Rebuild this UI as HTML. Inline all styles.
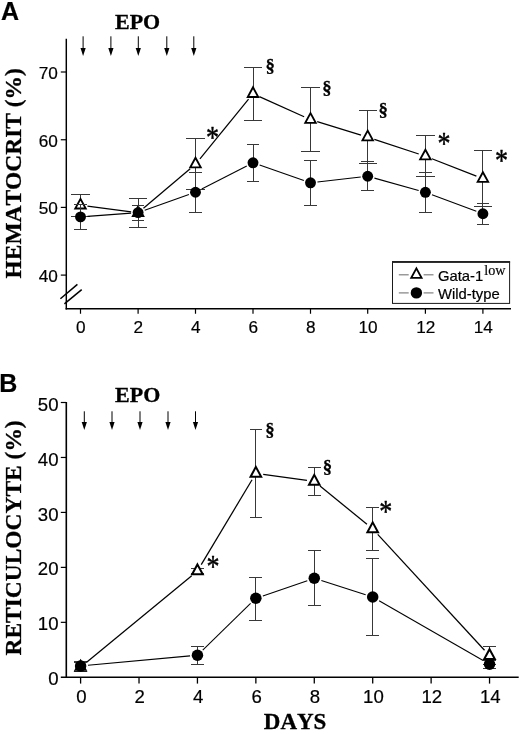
<!DOCTYPE html>
<html><head><meta charset="utf-8"><title>Figure</title>
<style>html,body{margin:0;padding:0;background:#fff}svg{display:block}</style>
</head><body>
<svg width="520" height="734" viewBox="0 0 520 734">
<rect width="520" height="734" fill="#fff"/>
<text x="0.90" y="19.60" font-family='"Liberation Sans", sans-serif' font-size="25" font-weight="bold" text-anchor="start" stroke="#000" stroke-width="0.2" >A</text>
<text x="115.00" y="28.70" font-family='"Liberation Serif", serif' font-size="22.0" font-weight="bold" text-anchor="start" stroke="#000" stroke-width="0.3" >EPO</text>
<line x1="83.10" y1="36.30" x2="83.10" y2="50.90" stroke="#000" stroke-width="1.0" />
<polygon points="80.50,47.90 85.70,47.90 83.10,55.90" fill="#000"/>
<line x1="110.90" y1="36.30" x2="110.90" y2="50.90" stroke="#000" stroke-width="1.0" />
<polygon points="108.30,47.90 113.50,47.90 110.90,55.90" fill="#000"/>
<line x1="138.30" y1="36.30" x2="138.30" y2="50.90" stroke="#000" stroke-width="1.0" />
<polygon points="135.70,47.90 140.90,47.90 138.30,55.90" fill="#000"/>
<line x1="166.80" y1="36.30" x2="166.80" y2="50.90" stroke="#000" stroke-width="1.0" />
<polygon points="164.20,47.90 169.40,47.90 166.80,55.90" fill="#000"/>
<line x1="193.80" y1="36.30" x2="193.80" y2="50.90" stroke="#000" stroke-width="1.0" />
<polygon points="191.20,47.90 196.40,47.90 193.80,55.90" fill="#000"/>
<line x1="66.30" y1="38.75" x2="66.30" y2="309.48" stroke="#000" stroke-width="1.45" />
<line x1="65.58" y1="308.75" x2="511.00" y2="308.75" stroke="#000" stroke-width="1.45" />
<line x1="60.80" y1="72.00" x2="66.30" y2="72.00" stroke="#000" stroke-width="1.2" />
<text x="57.80" y="78.80" font-family='"Liberation Sans", sans-serif' font-size="17.2" font-weight="normal" text-anchor="end" stroke="#000" stroke-width="0.2" >70</text>
<line x1="60.80" y1="139.75" x2="66.30" y2="139.75" stroke="#000" stroke-width="1.2" />
<text x="57.80" y="146.55" font-family='"Liberation Sans", sans-serif' font-size="17.2" font-weight="normal" text-anchor="end" stroke="#000" stroke-width="0.2" >60</text>
<line x1="60.80" y1="207.40" x2="66.30" y2="207.40" stroke="#000" stroke-width="1.2" />
<text x="57.80" y="214.20" font-family='"Liberation Sans", sans-serif' font-size="17.2" font-weight="normal" text-anchor="end" stroke="#000" stroke-width="0.2" >50</text>
<line x1="60.80" y1="275.10" x2="66.30" y2="275.10" stroke="#000" stroke-width="1.2" />
<text x="57.80" y="281.90" font-family='"Liberation Sans", sans-serif' font-size="17.2" font-weight="normal" text-anchor="end" stroke="#000" stroke-width="0.2" >40</text>
<line x1="80.50" y1="308.75" x2="80.50" y2="313.75" stroke="#000" stroke-width="1.2" />
<text x="80.80" y="333.40" font-family='"Liberation Sans", sans-serif' font-size="17.2" font-weight="normal" text-anchor="middle" stroke="#000" stroke-width="0.2" >0</text>
<line x1="138.10" y1="308.75" x2="138.10" y2="313.75" stroke="#000" stroke-width="1.2" />
<text x="138.40" y="333.40" font-family='"Liberation Sans", sans-serif' font-size="17.2" font-weight="normal" text-anchor="middle" stroke="#000" stroke-width="0.2" >2</text>
<line x1="195.50" y1="308.75" x2="195.50" y2="313.75" stroke="#000" stroke-width="1.2" />
<text x="195.80" y="333.40" font-family='"Liberation Sans", sans-serif' font-size="17.2" font-weight="normal" text-anchor="middle" stroke="#000" stroke-width="0.2" >4</text>
<line x1="253.00" y1="308.75" x2="253.00" y2="313.75" stroke="#000" stroke-width="1.2" />
<text x="253.30" y="333.40" font-family='"Liberation Sans", sans-serif' font-size="17.2" font-weight="normal" text-anchor="middle" stroke="#000" stroke-width="0.2" >6</text>
<line x1="310.50" y1="308.75" x2="310.50" y2="313.75" stroke="#000" stroke-width="1.2" />
<text x="310.80" y="333.40" font-family='"Liberation Sans", sans-serif' font-size="17.2" font-weight="normal" text-anchor="middle" stroke="#000" stroke-width="0.2" >8</text>
<line x1="367.70" y1="308.75" x2="367.70" y2="313.75" stroke="#000" stroke-width="1.2" />
<text x="368.00" y="333.40" font-family='"Liberation Sans", sans-serif' font-size="17.2" font-weight="normal" text-anchor="middle" stroke="#000" stroke-width="0.2" >10</text>
<line x1="425.40" y1="308.75" x2="425.40" y2="313.75" stroke="#000" stroke-width="1.2" />
<text x="425.70" y="333.40" font-family='"Liberation Sans", sans-serif' font-size="17.2" font-weight="normal" text-anchor="middle" stroke="#000" stroke-width="0.2" >12</text>
<line x1="482.90" y1="308.75" x2="482.90" y2="313.75" stroke="#000" stroke-width="1.2" />
<text x="483.20" y="333.40" font-family='"Liberation Sans", sans-serif' font-size="17.2" font-weight="normal" text-anchor="middle" stroke="#000" stroke-width="0.2" >14</text>
<line x1="60.40" y1="298.80" x2="77.40" y2="284.40" stroke="#000" stroke-width="1.5" />
<line x1="64.40" y1="303.80" x2="81.70" y2="289.70" stroke="#000" stroke-width="1.5" />
<text transform="translate(21.3,173.3) rotate(-90) scale(1,0.94)" font-family='"Liberation Serif", serif' font-size="23.45" font-weight="bold" text-anchor="middle" stroke="#000" stroke-width="0.3" style="font-kerning:none">HEMATOCRIT (%)</text>
<line x1="80.50" y1="194.00" x2="80.50" y2="216.85" stroke="#383838" stroke-width="1.0" shape-rendering="crispEdges"/>
<line x1="71.40" y1="194.00" x2="89.60" y2="194.00" stroke="#383838" stroke-width="1.0" shape-rendering="crispEdges"/>
<line x1="71.40" y1="216.85" x2="89.60" y2="216.85" stroke="#383838" stroke-width="1.0" shape-rendering="crispEdges"/>
<line x1="138.10" y1="198.10" x2="138.10" y2="227.70" stroke="#383838" stroke-width="1.0" shape-rendering="crispEdges"/>
<line x1="129.00" y1="198.10" x2="147.20" y2="198.10" stroke="#383838" stroke-width="1.0" shape-rendering="crispEdges"/>
<line x1="129.00" y1="227.70" x2="147.20" y2="227.70" stroke="#383838" stroke-width="1.0" shape-rendering="crispEdges"/>
<line x1="195.50" y1="138.60" x2="195.50" y2="189.80" stroke="#383838" stroke-width="1.0" shape-rendering="crispEdges"/>
<line x1="186.40" y1="138.60" x2="204.60" y2="138.60" stroke="#383838" stroke-width="1.0" shape-rendering="crispEdges"/>
<line x1="186.40" y1="189.80" x2="204.60" y2="189.80" stroke="#383838" stroke-width="1.0" shape-rendering="crispEdges"/>
<line x1="253.00" y1="67.50" x2="253.00" y2="120.00" stroke="#383838" stroke-width="1.0" shape-rendering="crispEdges"/>
<line x1="243.90" y1="67.50" x2="262.10" y2="67.50" stroke="#383838" stroke-width="1.0" shape-rendering="crispEdges"/>
<line x1="243.90" y1="120.00" x2="262.10" y2="120.00" stroke="#383838" stroke-width="1.0" shape-rendering="crispEdges"/>
<line x1="310.50" y1="87.50" x2="310.50" y2="151.25" stroke="#383838" stroke-width="1.0" shape-rendering="crispEdges"/>
<line x1="301.40" y1="87.50" x2="319.60" y2="87.50" stroke="#383838" stroke-width="1.0" shape-rendering="crispEdges"/>
<line x1="301.40" y1="151.25" x2="319.60" y2="151.25" stroke="#383838" stroke-width="1.0" shape-rendering="crispEdges"/>
<line x1="367.70" y1="110.50" x2="367.70" y2="163.75" stroke="#383838" stroke-width="1.0" shape-rendering="crispEdges"/>
<line x1="358.60" y1="110.50" x2="376.80" y2="110.50" stroke="#383838" stroke-width="1.0" shape-rendering="crispEdges"/>
<line x1="358.60" y1="163.75" x2="376.80" y2="163.75" stroke="#383838" stroke-width="1.0" shape-rendering="crispEdges"/>
<line x1="425.40" y1="135.75" x2="425.40" y2="176.50" stroke="#383838" stroke-width="1.0" shape-rendering="crispEdges"/>
<line x1="416.30" y1="135.75" x2="434.50" y2="135.75" stroke="#383838" stroke-width="1.0" shape-rendering="crispEdges"/>
<line x1="416.30" y1="176.50" x2="434.50" y2="176.50" stroke="#383838" stroke-width="1.0" shape-rendering="crispEdges"/>
<line x1="482.90" y1="150.50" x2="482.90" y2="206.75" stroke="#383838" stroke-width="1.0" shape-rendering="crispEdges"/>
<line x1="473.80" y1="150.50" x2="492.00" y2="150.50" stroke="#383838" stroke-width="1.0" shape-rendering="crispEdges"/>
<line x1="473.80" y1="206.75" x2="492.00" y2="206.75" stroke="#383838" stroke-width="1.0" shape-rendering="crispEdges"/>
<line x1="87.44" y1="206.20" x2="131.16" y2="211.90" stroke="#000" stroke-width="1.25" />
<line x1="143.44" y1="208.28" x2="190.16" y2="168.72" stroke="#000" stroke-width="1.25" />
<line x1="199.93" y1="158.78" x2="248.57" y2="99.17" stroke="#000" stroke-width="1.25" />
<line x1="259.38" y1="96.62" x2="304.12" y2="116.73" stroke="#000" stroke-width="1.25" />
<line x1="317.19" y1="121.65" x2="361.01" y2="135.05" stroke="#000" stroke-width="1.25" />
<line x1="374.35" y1="139.30" x2="418.75" y2="154.00" stroke="#000" stroke-width="1.25" />
<line x1="431.92" y1="158.75" x2="476.38" y2="176.15" stroke="#000" stroke-width="1.25" />
<polygon points="80.50,198.83 85.75,208.53 75.25,208.53" fill="#fff" stroke="#000" stroke-width="1.85" stroke-linejoin="miter"/>
<polygon points="138.10,206.33 143.35,216.03 132.85,216.03" fill="#fff" stroke="#000" stroke-width="1.85" stroke-linejoin="miter"/>
<polygon points="195.50,157.73 200.75,167.43 190.25,167.43" fill="#fff" stroke="#000" stroke-width="1.85" stroke-linejoin="miter"/>
<polygon points="253.00,87.28 258.25,96.98 247.75,96.98" fill="#fff" stroke="#000" stroke-width="1.85" stroke-linejoin="miter"/>
<polygon points="310.50,113.13 315.75,122.83 305.25,122.83" fill="#fff" stroke="#000" stroke-width="1.85" stroke-linejoin="miter"/>
<polygon points="367.70,130.63 372.95,140.33 362.45,140.33" fill="#fff" stroke="#000" stroke-width="1.85" stroke-linejoin="miter"/>
<polygon points="425.40,149.73 430.65,159.43 420.15,159.43" fill="#fff" stroke="#000" stroke-width="1.85" stroke-linejoin="miter"/>
<polygon points="482.90,172.23 488.15,181.93 477.65,181.93" fill="#fff" stroke="#000" stroke-width="1.85" stroke-linejoin="miter"/>
<line x1="80.50" y1="204.20" x2="80.50" y2="229.90" stroke="#383838" stroke-width="1.0" shape-rendering="crispEdges"/>
<line x1="74.20" y1="204.20" x2="86.80" y2="204.20" stroke="#383838" stroke-width="1.0" shape-rendering="crispEdges"/>
<line x1="74.20" y1="229.90" x2="86.80" y2="229.90" stroke="#383838" stroke-width="1.0" shape-rendering="crispEdges"/>
<line x1="138.10" y1="205.40" x2="138.10" y2="220.20" stroke="#383838" stroke-width="1.0" shape-rendering="crispEdges"/>
<line x1="131.80" y1="205.40" x2="144.40" y2="205.40" stroke="#383838" stroke-width="1.0" shape-rendering="crispEdges"/>
<line x1="131.80" y1="220.20" x2="144.40" y2="220.20" stroke="#383838" stroke-width="1.0" shape-rendering="crispEdges"/>
<line x1="195.50" y1="172.30" x2="195.50" y2="212.40" stroke="#383838" stroke-width="1.0" shape-rendering="crispEdges"/>
<line x1="189.20" y1="172.30" x2="201.80" y2="172.30" stroke="#383838" stroke-width="1.0" shape-rendering="crispEdges"/>
<line x1="189.20" y1="212.40" x2="201.80" y2="212.40" stroke="#383838" stroke-width="1.0" shape-rendering="crispEdges"/>
<line x1="253.00" y1="144.50" x2="253.00" y2="181.25" stroke="#383838" stroke-width="1.0" shape-rendering="crispEdges"/>
<line x1="246.70" y1="144.50" x2="259.30" y2="144.50" stroke="#383838" stroke-width="1.0" shape-rendering="crispEdges"/>
<line x1="246.70" y1="181.25" x2="259.30" y2="181.25" stroke="#383838" stroke-width="1.0" shape-rendering="crispEdges"/>
<line x1="310.50" y1="160.00" x2="310.50" y2="205.50" stroke="#383838" stroke-width="1.0" shape-rendering="crispEdges"/>
<line x1="304.20" y1="160.00" x2="316.80" y2="160.00" stroke="#383838" stroke-width="1.0" shape-rendering="crispEdges"/>
<line x1="304.20" y1="205.50" x2="316.80" y2="205.50" stroke="#383838" stroke-width="1.0" shape-rendering="crispEdges"/>
<line x1="367.70" y1="161.75" x2="367.70" y2="190.75" stroke="#383838" stroke-width="1.0" shape-rendering="crispEdges"/>
<line x1="361.40" y1="161.75" x2="374.00" y2="161.75" stroke="#383838" stroke-width="1.0" shape-rendering="crispEdges"/>
<line x1="361.40" y1="190.75" x2="374.00" y2="190.75" stroke="#383838" stroke-width="1.0" shape-rendering="crispEdges"/>
<line x1="425.40" y1="172.50" x2="425.40" y2="212.50" stroke="#383838" stroke-width="1.0" shape-rendering="crispEdges"/>
<line x1="419.10" y1="172.50" x2="431.70" y2="172.50" stroke="#383838" stroke-width="1.0" shape-rendering="crispEdges"/>
<line x1="419.10" y1="212.50" x2="431.70" y2="212.50" stroke="#383838" stroke-width="1.0" shape-rendering="crispEdges"/>
<line x1="482.90" y1="203.00" x2="482.90" y2="224.50" stroke="#383838" stroke-width="1.0" shape-rendering="crispEdges"/>
<line x1="476.60" y1="203.00" x2="489.20" y2="203.00" stroke="#383838" stroke-width="1.0" shape-rendering="crispEdges"/>
<line x1="476.60" y1="224.50" x2="489.20" y2="224.50" stroke="#383838" stroke-width="1.0" shape-rendering="crispEdges"/>
<line x1="87.48" y1="216.38" x2="131.12" y2="213.12" stroke="#000" stroke-width="1.05" />
<line x1="144.70" y1="210.26" x2="188.90" y2="194.59" stroke="#000" stroke-width="1.05" />
<line x1="201.73" y1="189.06" x2="246.77" y2="165.99" stroke="#000" stroke-width="1.05" />
<line x1="259.61" y1="165.10" x2="303.89" y2="180.50" stroke="#000" stroke-width="1.05" />
<line x1="317.45" y1="182.00" x2="360.75" y2="177.05" stroke="#000" stroke-width="1.05" />
<line x1="374.44" y1="178.13" x2="418.66" y2="190.42" stroke="#000" stroke-width="1.05" />
<line x1="431.96" y1="194.75" x2="476.34" y2="211.30" stroke="#000" stroke-width="1.05" />
<circle cx="80.50" cy="216.90" r="5.45" fill="#000"/>
<circle cx="138.10" cy="212.60" r="5.45" fill="#000"/>
<circle cx="195.50" cy="192.25" r="5.45" fill="#000"/>
<circle cx="253.00" cy="162.80" r="5.45" fill="#000"/>
<circle cx="310.50" cy="182.80" r="5.45" fill="#000"/>
<circle cx="367.70" cy="176.25" r="5.45" fill="#000"/>
<circle cx="425.40" cy="192.30" r="5.45" fill="#000"/>
<circle cx="482.90" cy="213.75" r="5.45" fill="#000"/>
<text transform="translate(212.40,133.10) scale(1,1.25)" x="0" y="12.22" font-family='"Liberation Serif", serif' font-size="26" font-weight="normal" stroke="#000" stroke-width="0.4" stroke-linejoin="round" text-anchor="middle">*</text>
<text transform="translate(444.00,139.15) scale(1,1.25)" x="0" y="12.22" font-family='"Liberation Serif", serif' font-size="26" font-weight="normal" stroke="#000" stroke-width="0.4" stroke-linejoin="round" text-anchor="middle">*</text>
<text transform="translate(501.50,155.65) scale(1,1.25)" x="0" y="12.22" font-family='"Liberation Serif", serif' font-size="26" font-weight="normal" stroke="#000" stroke-width="0.4" stroke-linejoin="round" text-anchor="middle">*</text>
<text x="270.15" y="72.00" font-family='"Liberation Serif", serif' font-size="18.75" font-weight="bold" stroke="#000" stroke-width="0.3" text-anchor="middle">§</text>
<text x="326.90" y="93.50" font-family='"Liberation Serif", serif' font-size="18.75" font-weight="bold" stroke="#000" stroke-width="0.3" text-anchor="middle">§</text>
<text x="383.30" y="116.30" font-family='"Liberation Serif", serif' font-size="18.75" font-weight="bold" stroke="#000" stroke-width="0.3" text-anchor="middle">§</text>
<rect x="392.5" y="262.2" width="117.1" height="41.2" fill="#fff" stroke="#1a1a1a" stroke-width="1.0"/>
<line x1="392.00" y1="261.90" x2="510.10" y2="261.90" stroke="#222" stroke-width="1.7" />
<line x1="398.80" y1="274.80" x2="408.70" y2="274.80" stroke="#808080" stroke-width="1.2" />
<line x1="423.60" y1="274.80" x2="433.50" y2="274.80" stroke="#808080" stroke-width="1.2" />
<line x1="398.80" y1="292.90" x2="408.70" y2="292.90" stroke="#808080" stroke-width="1.2" />
<line x1="423.60" y1="292.90" x2="433.50" y2="292.90" stroke="#808080" stroke-width="1.2" />
<polygon points="416.40,268.37 421.55,277.87 411.25,277.87" fill="#fff" stroke="#000" stroke-width="1.85" stroke-linejoin="miter"/>
<circle cx="416.40" cy="292.90" r="5.7" fill="#000"/>
<text x="438.0" y="280.9" font-family='"Liberation Sans", sans-serif' font-size="14.8" stroke="#000" stroke-width="0.2">Gata-1<tspan font-family='"Liberation Serif", serif' font-size="14.2" dy="-5.8" dx="1.0" stroke-width="0.15">low</tspan></text>
<text x="438.00" y="298.90" font-family='"Liberation Sans", sans-serif' font-size="14.8" font-weight="normal" text-anchor="start" stroke="#000" stroke-width="0.2" >Wild-type</text>
<text x="-0.80" y="392.20" font-family='"Liberation Sans", sans-serif' font-size="25" font-weight="bold" text-anchor="start" stroke="#000" stroke-width="0.2" >B</text>
<text x="115.10" y="401.60" font-family='"Liberation Serif", serif' font-size="22.0" font-weight="bold" text-anchor="start" stroke="#000" stroke-width="0.3" >EPO</text>
<line x1="84.30" y1="411.30" x2="84.30" y2="425.00" stroke="#000" stroke-width="1.0" />
<polygon points="81.70,422.00 86.90,422.00 84.30,430.00" fill="#000"/>
<line x1="112.00" y1="411.30" x2="112.00" y2="425.00" stroke="#000" stroke-width="1.0" />
<polygon points="109.40,422.00 114.60,422.00 112.00,430.00" fill="#000"/>
<line x1="140.00" y1="411.30" x2="140.00" y2="425.00" stroke="#000" stroke-width="1.0" />
<polygon points="137.40,422.00 142.60,422.00 140.00,430.00" fill="#000"/>
<line x1="168.00" y1="411.30" x2="168.00" y2="425.00" stroke="#000" stroke-width="1.0" />
<polygon points="165.40,422.00 170.60,422.00 168.00,430.00" fill="#000"/>
<line x1="195.50" y1="411.30" x2="195.50" y2="425.00" stroke="#000" stroke-width="1.0" />
<polygon points="192.90,422.00 198.10,422.00 195.50,430.00" fill="#000"/>
<line x1="66.30" y1="401.90" x2="66.30" y2="678.10" stroke="#000" stroke-width="1.6" />
<line x1="60.80" y1="677.30" x2="518.70" y2="677.30" stroke="#000" stroke-width="1.6" />
<line x1="60.80" y1="622.34" x2="66.30" y2="622.34" stroke="#000" stroke-width="1.2" />
<text x="58.50" y="630.44" font-family='"Liberation Sans", sans-serif' font-size="18.6" font-weight="normal" text-anchor="end" stroke="#000" stroke-width="0.2" >10</text>
<line x1="60.80" y1="567.38" x2="66.30" y2="567.38" stroke="#000" stroke-width="1.2" />
<text x="58.50" y="575.48" font-family='"Liberation Sans", sans-serif' font-size="18.6" font-weight="normal" text-anchor="end" stroke="#000" stroke-width="0.2" >20</text>
<line x1="60.80" y1="512.42" x2="66.30" y2="512.42" stroke="#000" stroke-width="1.2" />
<text x="58.50" y="520.52" font-family='"Liberation Sans", sans-serif' font-size="18.6" font-weight="normal" text-anchor="end" stroke="#000" stroke-width="0.2" >30</text>
<line x1="60.80" y1="457.46" x2="66.30" y2="457.46" stroke="#000" stroke-width="1.2" />
<text x="58.50" y="465.56" font-family='"Liberation Sans", sans-serif' font-size="18.6" font-weight="normal" text-anchor="end" stroke="#000" stroke-width="0.2" >40</text>
<line x1="60.80" y1="402.50" x2="66.30" y2="402.50" stroke="#000" stroke-width="1.2" />
<text x="58.50" y="410.60" font-family='"Liberation Sans", sans-serif' font-size="18.6" font-weight="normal" text-anchor="end" stroke="#000" stroke-width="0.2" >50</text>
<text x="58.50" y="685.10" font-family='"Liberation Sans", sans-serif' font-size="18.6" font-weight="normal" text-anchor="end" stroke="#000" stroke-width="0.2" >0</text>
<line x1="80.60" y1="677.30" x2="80.60" y2="683.60" stroke="#000" stroke-width="1.3" />
<text x="81.30" y="703.10" font-family='"Liberation Sans", sans-serif' font-size="18.6" font-weight="normal" text-anchor="middle" stroke="#000" stroke-width="0.2" >0</text>
<line x1="139.02" y1="677.30" x2="139.02" y2="683.60" stroke="#000" stroke-width="1.3" />
<text x="139.72" y="703.10" font-family='"Liberation Sans", sans-serif' font-size="18.6" font-weight="normal" text-anchor="middle" stroke="#000" stroke-width="0.2" >2</text>
<line x1="197.44" y1="677.30" x2="197.44" y2="683.60" stroke="#000" stroke-width="1.3" />
<text x="198.14" y="703.10" font-family='"Liberation Sans", sans-serif' font-size="18.6" font-weight="normal" text-anchor="middle" stroke="#000" stroke-width="0.2" >4</text>
<line x1="255.86" y1="677.30" x2="255.86" y2="683.60" stroke="#000" stroke-width="1.3" />
<text x="256.56" y="703.10" font-family='"Liberation Sans", sans-serif' font-size="18.6" font-weight="normal" text-anchor="middle" stroke="#000" stroke-width="0.2" >6</text>
<line x1="314.28" y1="677.30" x2="314.28" y2="683.60" stroke="#000" stroke-width="1.3" />
<text x="314.98" y="703.10" font-family='"Liberation Sans", sans-serif' font-size="18.6" font-weight="normal" text-anchor="middle" stroke="#000" stroke-width="0.2" >8</text>
<line x1="372.70" y1="677.30" x2="372.70" y2="683.60" stroke="#000" stroke-width="1.3" />
<text x="373.40" y="703.10" font-family='"Liberation Sans", sans-serif' font-size="18.6" font-weight="normal" text-anchor="middle" stroke="#000" stroke-width="0.2" >10</text>
<line x1="431.12" y1="677.30" x2="431.12" y2="683.60" stroke="#000" stroke-width="1.3" />
<text x="431.82" y="703.10" font-family='"Liberation Sans", sans-serif' font-size="18.6" font-weight="normal" text-anchor="middle" stroke="#000" stroke-width="0.2" >12</text>
<line x1="489.54" y1="677.30" x2="489.54" y2="683.60" stroke="#000" stroke-width="1.3" />
<text x="490.24" y="703.10" font-family='"Liberation Sans", sans-serif' font-size="18.6" font-weight="normal" text-anchor="middle" stroke="#000" stroke-width="0.2" >14</text>
<text transform="translate(21.2,537.9) rotate(-90) scale(1,0.94)" font-family='"Liberation Serif", serif' font-size="23.45" font-weight="bold" text-anchor="middle" stroke="#000" stroke-width="0.3" style="font-kerning:none">RETICULOCYTE (%)</text>
<text x="295.10" y="729.00" font-family='"Liberation Serif", serif' font-size="23" font-weight="bold" text-anchor="middle" stroke="#000" stroke-width="0.3" style="font-kerning:none">DAYS</text>
<line x1="80.60" y1="661.60" x2="80.60" y2="671.00" stroke="#383838" stroke-width="1.0" shape-rendering="crispEdges"/>
<line x1="74.30" y1="661.60" x2="86.90" y2="661.60" stroke="#383838" stroke-width="1.0" shape-rendering="crispEdges"/>
<line x1="74.30" y1="671.00" x2="86.90" y2="671.00" stroke="#383838" stroke-width="1.0" shape-rendering="crispEdges"/>
<line x1="197.44" y1="568.60" x2="197.44" y2="573.80" stroke="#383838" stroke-width="1.0" shape-rendering="crispEdges"/>
<line x1="191.14" y1="568.60" x2="203.74" y2="568.60" stroke="#383838" stroke-width="1.0" shape-rendering="crispEdges"/>
<line x1="191.14" y1="573.80" x2="203.74" y2="573.80" stroke="#383838" stroke-width="1.0" shape-rendering="crispEdges"/>
<line x1="255.86" y1="429.50" x2="255.86" y2="517.00" stroke="#383838" stroke-width="1.0" shape-rendering="crispEdges"/>
<line x1="249.56" y1="429.50" x2="262.16" y2="429.50" stroke="#383838" stroke-width="1.0" shape-rendering="crispEdges"/>
<line x1="249.56" y1="517.00" x2="262.16" y2="517.00" stroke="#383838" stroke-width="1.0" shape-rendering="crispEdges"/>
<line x1="314.28" y1="467.50" x2="314.28" y2="495.00" stroke="#383838" stroke-width="1.0" shape-rendering="crispEdges"/>
<line x1="307.98" y1="467.50" x2="320.58" y2="467.50" stroke="#383838" stroke-width="1.0" shape-rendering="crispEdges"/>
<line x1="307.98" y1="495.00" x2="320.58" y2="495.00" stroke="#383838" stroke-width="1.0" shape-rendering="crispEdges"/>
<line x1="372.70" y1="507.00" x2="372.70" y2="550.50" stroke="#383838" stroke-width="1.0" shape-rendering="crispEdges"/>
<line x1="366.40" y1="507.00" x2="379.00" y2="507.00" stroke="#383838" stroke-width="1.0" shape-rendering="crispEdges"/>
<line x1="366.40" y1="550.50" x2="379.00" y2="550.50" stroke="#383838" stroke-width="1.0" shape-rendering="crispEdges"/>
<line x1="489.54" y1="646.60" x2="489.54" y2="664.80" stroke="#383838" stroke-width="1.0" shape-rendering="crispEdges"/>
<line x1="483.24" y1="646.60" x2="495.84" y2="646.60" stroke="#383838" stroke-width="1.0" shape-rendering="crispEdges"/>
<line x1="483.24" y1="664.80" x2="495.84" y2="664.80" stroke="#383838" stroke-width="1.0" shape-rendering="crispEdges"/>
<line x1="86.31" y1="662.59" x2="191.73" y2="575.71" stroke="#000" stroke-width="1.25" />
<line x1="201.24" y1="564.65" x2="252.06" y2="479.75" stroke="#000" stroke-width="1.25" />
<line x1="263.19" y1="474.40" x2="306.95" y2="480.40" stroke="#000" stroke-width="1.25" />
<line x1="320.02" y1="486.07" x2="366.96" y2="524.23" stroke="#000" stroke-width="1.25" />
<line x1="377.71" y1="534.34" x2="484.53" y2="650.26" stroke="#000" stroke-width="1.25" />
<polygon points="80.60,660.77 85.90,670.57 75.30,670.57" fill="#fff" stroke="#000" stroke-width="2.0" stroke-linejoin="miter"/>
<polygon points="197.44,564.47 202.74,574.27 192.14,574.27" fill="#fff" stroke="#000" stroke-width="2.0" stroke-linejoin="miter"/>
<polygon points="255.86,466.87 261.16,476.67 250.56,476.67" fill="#fff" stroke="#000" stroke-width="2.0" stroke-linejoin="miter"/>
<polygon points="314.28,474.87 319.58,484.67 308.98,484.67" fill="#fff" stroke="#000" stroke-width="2.0" stroke-linejoin="miter"/>
<polygon points="372.70,522.37 378.00,532.17 367.40,532.17" fill="#fff" stroke="#000" stroke-width="2.0" stroke-linejoin="miter"/>
<polygon points="489.54,649.17 494.84,658.97 484.24,658.97" fill="#fff" stroke="#000" stroke-width="2.0" stroke-linejoin="miter"/>
<line x1="80.60" y1="662.00" x2="80.60" y2="670.00" stroke="#383838" stroke-width="1.0" shape-rendering="crispEdges"/>
<line x1="74.20" y1="662.00" x2="87.00" y2="662.00" stroke="#383838" stroke-width="1.0" shape-rendering="crispEdges"/>
<line x1="74.20" y1="670.00" x2="87.00" y2="670.00" stroke="#383838" stroke-width="1.0" shape-rendering="crispEdges"/>
<line x1="197.44" y1="646.00" x2="197.44" y2="664.40" stroke="#383838" stroke-width="1.0" shape-rendering="crispEdges"/>
<line x1="191.04" y1="646.00" x2="203.84" y2="646.00" stroke="#383838" stroke-width="1.0" shape-rendering="crispEdges"/>
<line x1="191.04" y1="664.40" x2="203.84" y2="664.40" stroke="#383838" stroke-width="1.0" shape-rendering="crispEdges"/>
<line x1="255.86" y1="577.00" x2="255.86" y2="620.00" stroke="#383838" stroke-width="1.0" shape-rendering="crispEdges"/>
<line x1="249.46" y1="577.00" x2="262.26" y2="577.00" stroke="#383838" stroke-width="1.0" shape-rendering="crispEdges"/>
<line x1="249.46" y1="620.00" x2="262.26" y2="620.00" stroke="#383838" stroke-width="1.0" shape-rendering="crispEdges"/>
<line x1="314.28" y1="550.75" x2="314.28" y2="605.75" stroke="#383838" stroke-width="1.0" shape-rendering="crispEdges"/>
<line x1="307.88" y1="550.75" x2="320.68" y2="550.75" stroke="#383838" stroke-width="1.0" shape-rendering="crispEdges"/>
<line x1="307.88" y1="605.75" x2="320.68" y2="605.75" stroke="#383838" stroke-width="1.0" shape-rendering="crispEdges"/>
<line x1="372.70" y1="558.25" x2="372.70" y2="635.70" stroke="#383838" stroke-width="1.0" shape-rendering="crispEdges"/>
<line x1="366.30" y1="558.25" x2="379.10" y2="558.25" stroke="#383838" stroke-width="1.0" shape-rendering="crispEdges"/>
<line x1="366.30" y1="635.70" x2="379.10" y2="635.70" stroke="#383838" stroke-width="1.0" shape-rendering="crispEdges"/>
<line x1="489.54" y1="660.00" x2="489.54" y2="668.50" stroke="#383838" stroke-width="1.0" shape-rendering="crispEdges"/>
<line x1="483.14" y1="660.00" x2="495.94" y2="660.00" stroke="#383838" stroke-width="1.0" shape-rendering="crispEdges"/>
<line x1="483.14" y1="668.50" x2="495.94" y2="668.50" stroke="#383838" stroke-width="1.0" shape-rendering="crispEdges"/>
<line x1="87.97" y1="665.32" x2="190.07" y2="655.88" stroke="#000" stroke-width="1.05" />
<line x1="202.74" y1="650.04" x2="250.56" y2="603.46" stroke="#000" stroke-width="1.05" />
<line x1="262.86" y1="595.90" x2="307.28" y2="580.65" stroke="#000" stroke-width="1.05" />
<line x1="321.33" y1="580.51" x2="365.65" y2="594.74" stroke="#000" stroke-width="1.05" />
<line x1="379.11" y1="600.69" x2="483.13" y2="660.51" stroke="#000" stroke-width="1.05" />
<circle cx="80.60" cy="666.00" r="5.75" fill="#000"/>
<circle cx="197.44" cy="655.20" r="5.75" fill="#000"/>
<circle cx="255.86" cy="598.30" r="5.75" fill="#000"/>
<circle cx="314.28" cy="578.25" r="5.75" fill="#000"/>
<circle cx="372.70" cy="597.00" r="5.75" fill="#000"/>
<circle cx="489.54" cy="664.20" r="5.75" fill="#000"/>
<text transform="translate(213.00,561.55) scale(1,1.25)" x="0" y="12.22" font-family='"Liberation Serif", serif' font-size="26" font-weight="normal" stroke="#000" stroke-width="0.4" stroke-linejoin="round" text-anchor="middle">*</text>
<text transform="translate(385.80,507.05) scale(1,1.25)" x="0" y="12.22" font-family='"Liberation Serif", serif' font-size="26" font-weight="normal" stroke="#000" stroke-width="0.4" stroke-linejoin="round" text-anchor="middle">*</text>
<text x="269.90" y="435.70" font-family='"Liberation Serif", serif' font-size="18.75" font-weight="bold" stroke="#000" stroke-width="0.3" text-anchor="middle">§</text>
<text x="327.50" y="472.70" font-family='"Liberation Serif", serif' font-size="18.75" font-weight="bold" stroke="#000" stroke-width="0.3" text-anchor="middle">§</text>
</svg>
</body></html>
